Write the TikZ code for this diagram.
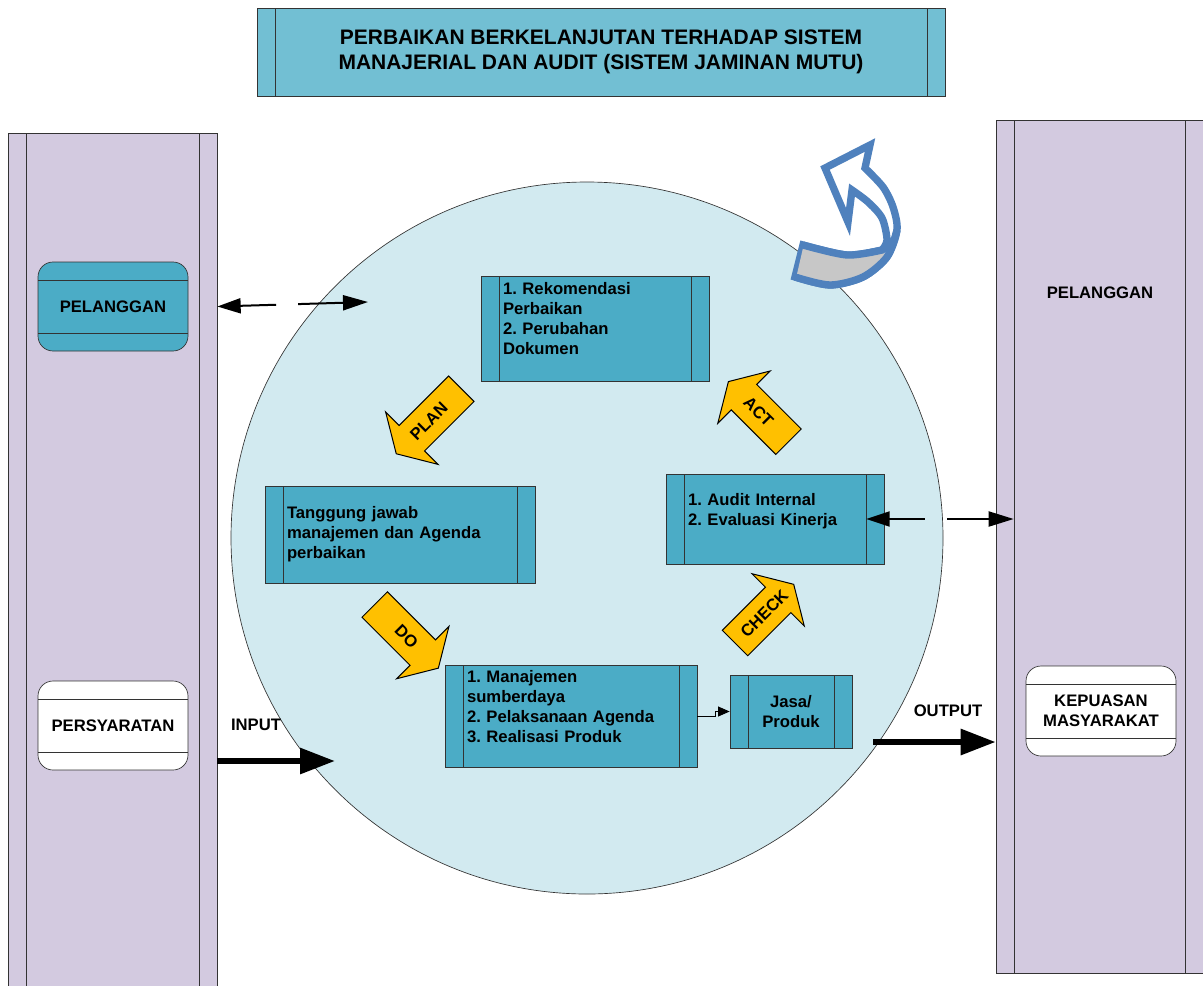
\documentclass[tikz,border=0pt]{standalone}
\usepackage{fontspec}
\setmainfont{Liberation Sans}
\usetikzlibrary{arrows.meta}

\newdimen\pxu
\pxu=0.6pt

\definecolor{lanelilac}{RGB}{211,202,224}
\definecolor{boxblue}{RGB}{75,172,198}
\definecolor{titleblue}{RGB}{114,191,211}
\definecolor{cyclefill}{RGB}{210,234,240}
\definecolor{pdcayellow}{RGB}{255,192,0}
\definecolor{turnblue}{RGB}{79,129,189}

% block arrow: name, tail x, tail y, direction, shaft length, text angle, label
\newcommand{\pdcaarrow}[7]{%
  \begin{scope}[shift={(#2,#3)}, rotate=#4]
    \draw[blockarrow] (0,-18) -- (#5,-18) -- (#5,-37) -- ++(22,37)
      -- (#5,37) -- (#5,18) -- (0,18) -- cycle;
    \node[rotate=#6] (#1) at ({(#5+22)/2},0) {#7};
  \end{scope}}

\begin{document}
\frenchspacing
\begin{tikzpicture}[x=0.6pt, y=-0.6pt,
  font=\bfseries\fontsize{10}{12}\selectfont,
  sidebars/.style={path picture={
      \draw[black!80] ([xshift=18*\pxu]path picture bounding box.north west)
        -- ([xshift=18*\pxu]path picture bounding box.south west);
      \draw[black!80] ([xshift=-18*\pxu]path picture bounding box.north east)
        -- ([xshift=-18*\pxu]path picture bounding box.south east);}},
  lane/.style={draw=black!80, fill=lanelilac, sidebars},
  procbox/.style={draw=black!80, fill=boxblue, sidebars, inner xsep=22*\pxu,
    inner ysep=0pt, align=left},
  termbox/.style={draw=black!80, rounded corners=9pt, minimum width=150*\pxu,
    minimum height=89*\pxu, align=center, path picture={
      \draw[black!80] ([yshift=-18*\pxu]path picture bounding box.north west)
        -- ([yshift=-18*\pxu]path picture bounding box.north east);
      \draw[black!80] ([yshift=18*\pxu]path picture bounding box.south west)
        -- ([yshift=18*\pxu]path picture bounding box.south east);}},
  blockarrow/.style={draw=black, fill=pdcayellow, line width=0.6pt},
  dashlink/.style={line width=1.2pt, dash pattern=on 21.6pt off 13.2pt on 30pt off 13.2pt,
    {Triangle[length=14pt,width=9pt]}-{Triangle[length=15pt,width=9pt]}},
  biglink/.style={line width=3.6pt, -{Triangle[length=21pt,width=15pt]}},
  smalllink/.style={line width=0.6pt, -{Triangle[length=7pt,width=6pt]}}]
  \useasboundingbox (0,0) rectangle (1203,985);

  % swim lanes
  \node[lane, minimum width=209*\pxu, minimum height=862*\pxu] (leftlane) at (112.5,564) {};
  \node[lane, minimum width=207*\pxu, minimum height=853*\pxu] (rightlane) at (1099.5,546.5) {};
  \node (custlabel) at (1100,293) {PELANGGAN};

  % the cycle
  \node[circle, draw=black!80, fill=cyclefill, minimum size=712*\pxu, inner sep=0pt] (cycle) at (587,538) {};

  % title
  \node[procbox, fill=titleblue, minimum width=688*\pxu, minimum height=88*\pxu, align=center,
    font=\bfseries\fontsize{12.6}{15}\selectfont] (title) at (601,52)
    {PERBAIKAN BERKELANJUTAN TERHADAP SISTEM\\MANAJERIAL DAN AUDIT (SISTEM JAMINAN MUTU)};

  % lane boxes
  \node[termbox, fill=boxblue] (customer) at (113,306.5) {PELANGGAN};
  \node[termbox, fill=white] (requirement) at (113,725.5) {PERSYARATAN};
  \node[termbox, fill=white, minimum height=90*\pxu] (satisfaction) at (1101,711) {KEPUASAN\\MASYARAKAT};

  % process boxes
  \node[procbox, text width=184*\pxu, minimum height=105*\pxu] (review) at (595,328.5)
    {1. Rekomendasi\\Perbaikan\\2. Perubahan\\Dokumen\\ \mbox{}};
  \node[procbox, text width=226*\pxu, minimum height=97*\pxu] (agenda) at (400,534.5)
    {Tanggung jawab\\manajemen dan Agenda\\perbaikan};
  \node[procbox, text width=174*\pxu, minimum height=90*\pxu] (audit) at (775,519)
    {1. Audit Internal\\2. Evaluasi Kinerja\\ \mbox{}};
  \node[procbox, text width=208*\pxu, minimum height=102*\pxu] (mgmt) at (571,716)
    {1. Manajemen\\sumberdaya\\2. Pelaksanaan Agenda\\3. Realisasi Produk\\ \mbox{}};
  \node[procbox, align=center, inner xsep=0pt, minimum width=122*\pxu, minimum height=73*\pxu]
    (product) at (791,711.5) {Jasa/\\Produk};

  % PDCA arrows
  \pdcaarrow{plan}{461.3}{388.7}{225}{70}{45}{PLAN}
  \pdcaarrow{do}{374.7}{604.5}{-45}{68}{-45}{DO}
  \pdcaarrow{check}{735}{643}{45}{61}{45}{CHECK}
  \pdcaarrow{act}{788.5}{441.7}{135}{63}{-45}{ACT}

  % continuous improvement turn
  \filldraw[fill=white, draw=turnblue, line width=4.4pt, line join=miter]
    plot[smooth] coordinates {(795,277) (830,285) (863,277) (887,257) (897,230) (893,207) (883,187) (865,168)}
    -- (870,145) -- (825,168) -- (848,222)
    -- plot[smooth] coordinates {(852,190) (868,202) (882,218) (887,240) (882,250)}
    -- plot[smooth] coordinates {(882,250) (847,255) (803,245)} -- cycle;
  \fill[black!22] plot[smooth] coordinates {(803,248) (847,258) (884,253)}
    -- plot[smooth] coordinates {(887,257) (863,275) (830,282) (797,274)} -- cycle;
  \draw[turnblue, line width=4.4pt]
    plot[smooth] coordinates {(803,245) (847,255) (882,250)} -- (894,240);
  \draw[turnblue, line width=4.4pt, line join=miter]
    plot[smooth] coordinates {(795,277) (830,285) (863,277) (887,257) (897,230)};

  % connectors
  \coordinate (circlein) at (368,302);
  \coordinate (auditin) at ([xshift=-18*\pxu]audit.east);
  \coordinate (laneedge) at ([xshift=18*\pxu]rightlane.west);
  \draw[dashlink] (leftlane.east |- customer) -- (circlein);
  \draw[dashlink] (auditin) -- (laneedge |- auditin);

  \coordinate (inputend) at (335,761);
  \coordinate (outputstart) at (873,742);
  \draw[biglink] (leftlane.east |- inputend) -- (inputend);
  \draw[biglink] (outputstart) -- (rightlane.west |- outputstart);
  \node (inputlabel) at (256,725) {INPUT};
  \node (outputlabel) at (948,711) {OUTPUT};

  \draw[smalllink] (mgmt.east) -- ++(18,0) |- (product.west);
\end{tikzpicture}
\end{document}
